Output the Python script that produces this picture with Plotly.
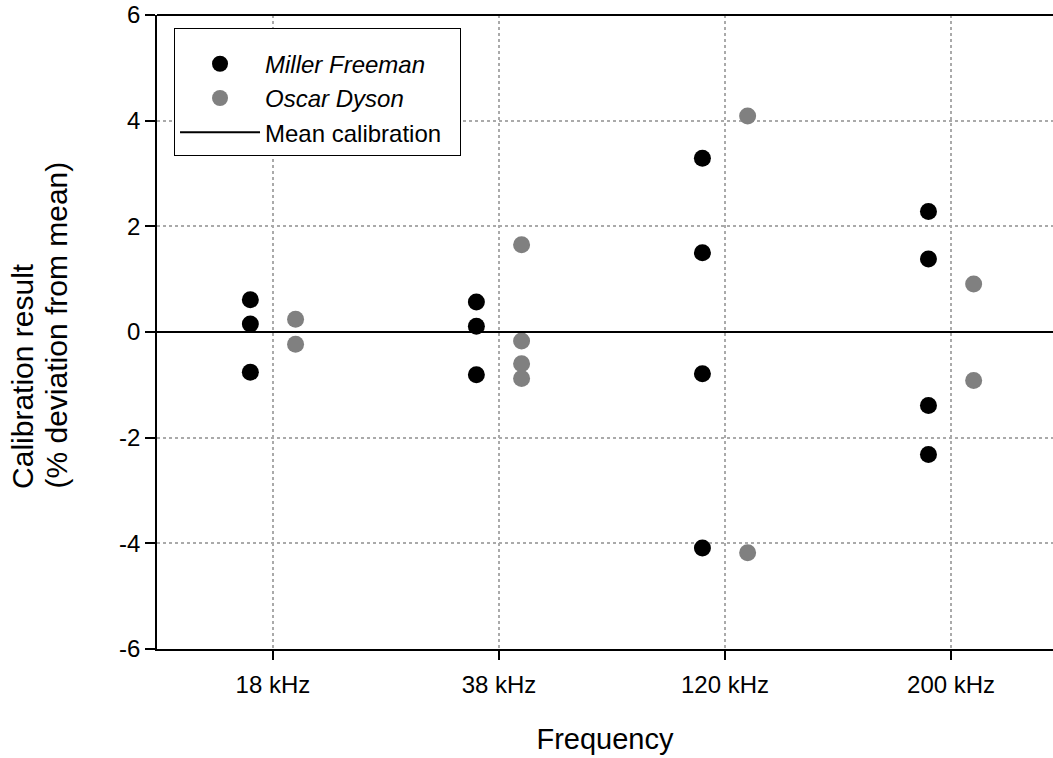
import plotly.graph_objects as go

categories = ["18 kHz", "38 kHz", "120 kHz", "200 kHz"]

mf_values = [
    [0.61, 0.15, -0.76],
    [0.57, 0.11, -0.81],
    [3.29, 1.50, -0.79, -4.09],
    [2.28, 1.38, -1.39, -2.32],
]
od_values = [
    [0.24, -0.23],
    [1.65, -0.17, -0.60, -0.88],
    [4.09, -4.18],
    [0.91, -0.92],
]
y_ticks = [-6, -4, -2, 0, 2, 4, 6]
y_title_lines = ["Calibration result", "(% deviation from mean)"]

FONT = "Liberation Sans, Arial, sans-serif"
offset = 0.1

mf_x, mf_y, od_x, od_y = [], [], [], []
for i, vals in enumerate(mf_values):
    for v in vals:
        mf_x.append(i + 1 - offset)
        mf_y.append(v)
for i, vals in enumerate(od_values):
    for v in vals:
        od_x.append(i + 1 + offset)
        od_y.append(v)

fig = go.Figure()
fig.add_trace(go.Scatter(x=mf_x, y=mf_y, mode="markers", name="<i>Miller Freeman</i>",
                         marker=dict(color="black", size=17), legendgroup="a"))
fig.add_trace(go.Scatter(x=od_x, y=od_y, mode="markers", name="<i>Oscar Dyson</i>",
                         marker=dict(color="#808080", size=17), legendgroup="b"))
fig.add_trace(go.Scatter(x=[None], y=[None], mode="lines",
                         name="Mean calibration\u00a0\u00a0",
                         line=dict(color="black", width=2), legendgroup="c"))

# mean line at 0
fig.add_shape(type="line", xref="x domain", yref="y", x0=0, x1=1, y0=0, y1=0,
              line=dict(color="black", width=2), layer="above")
# top border
fig.add_shape(type="line", xref="x domain", yref="y domain", x0=0, x1=1, y0=1, y1=1,
              line=dict(color="black", width=2))

# y-axis title as two left-aligned rotated lines
for txt, xp in zip(y_title_lines, [-0.1496, -0.1127]):
    fig.add_annotation(text=txt, xref="paper", yref="paper", x=xp, y=0.2508,
                       xanchor="center", yanchor="bottom", textangle=-90,
                       showarrow=False, font=dict(size=30, family=FONT, color="black"),
                       borderpad=0)

fig.update_layout(
    width=1053, height=758,
    margin=dict(l=157, r=0, t=15, b=109),
    plot_bgcolor="white", paper_bgcolor="white",
    font=dict(family=FONT, size=24, color="black"),
    showlegend=True,
    legend=dict(x=0.019, y=0.98, xanchor="left", yanchor="top",
                bordercolor="black", borderwidth=1, bgcolor="white",
                font=dict(size=24), tracegroupgap=0, itemwidth=80,
                title=dict(text=" ", font=dict(size=10))),
    xaxis=dict(range=[0.487, 4.451], tickvals=[1, 2, 3, 4], ticktext=categories,
               tickfont=dict(size=24), ticklabelstandoff=4,
               showgrid=True, gridcolor="#aaaaaa", griddash="dot", gridwidth=1.5,
               showline=True, linecolor="black", linewidth=2,
               ticks="outside", ticklen=9, tickwidth=1.5, tickcolor="black",
               zeroline=False,
               title=dict(text="Frequency", font=dict(size=29), standoff=32)),
    yaxis=dict(range=[-6, 6], tickvals=y_ticks, ticktext=[str(t) for t in y_ticks],
               tickfont=dict(size=24),
               showgrid=True, gridcolor="#aaaaaa", griddash="dot", gridwidth=1.5,
               showline=True, linecolor="black", linewidth=1.5,
               ticks="outside", ticklen=10, tickwidth=1.5, tickcolor="black",
               zeroline=False),
)

fig.write_html("out.html")
